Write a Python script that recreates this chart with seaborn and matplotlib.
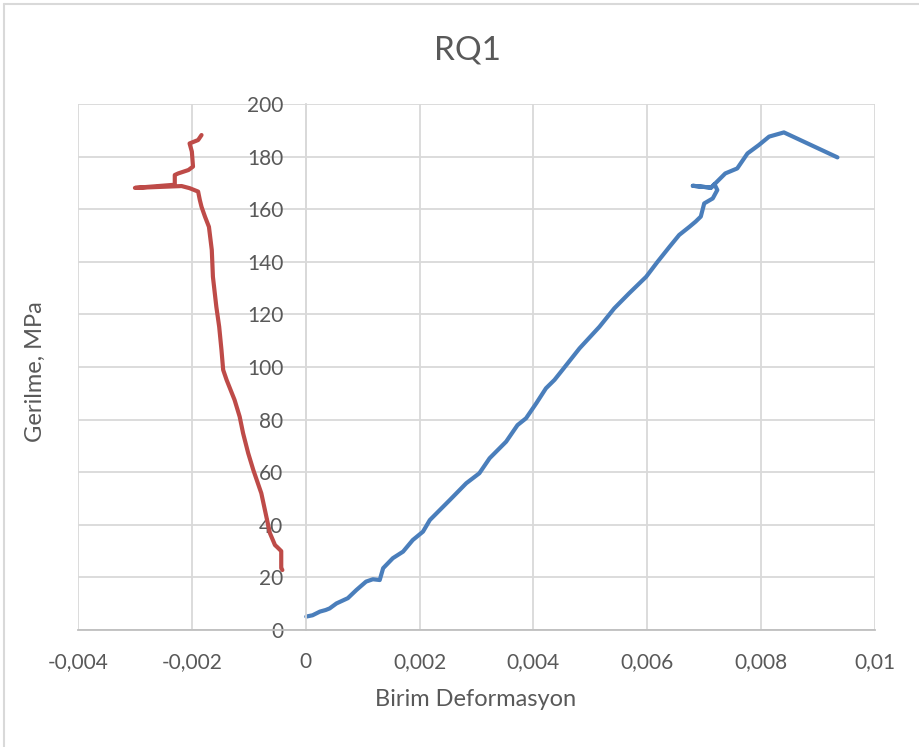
import matplotlib
matplotlib.use("Agg")
import matplotlib.pyplot as plt
import seaborn as sns
from matplotlib.ticker import FuncFormatter, MultipleLocator
from matplotlib.lines import Line2D

# strain (x) / stress (y) readings for the two gauges
blue_x = [0.00001, 0.00012, 0.00025, 0.00035, 0.00042, 0.00054, 0.00074, 0.00089,
          0.00106, 0.00118, 0.0013, 0.00136, 0.00153, 0.00171, 0.00188, 0.00206,
          0.00218, 0.00253, 0.00282, 0.00305, 0.00323, 0.00352, 0.00372, 0.00387,
          0.00405, 0.00422, 0.00437, 0.00451, 0.00481, 0.00516, 0.00542, 0.00568,
          0.00598, 0.00618, 0.00639, 0.00656, 0.00674, 0.00685, 0.00694, 0.007,
          0.00715, 0.00723, 0.00718, 0.00712, 0.0068, 0.00712, 0.00718, 0.00737,
          0.00758, 0.00776, 0.00796, 0.00814, 0.0084, 0.00934]
blue_y = [5.1, 5.6, 7.0, 7.6, 8.2, 10.1, 12.1, 15.2,
          18.4, 19.3, 19.0, 23.5, 27.3, 29.8, 34.2, 37.4,
          41.8, 49.4, 55.8, 59.6, 65.3, 71.6, 77.9, 80.5,
          86.2, 91.9, 95.1, 98.9, 107.1, 115.3, 122.3, 128.0,
          134.3, 140.0, 145.7, 150.2, 153.3, 155.3, 157.2, 162.2,
          164.1, 167.3, 169.5, 168.2, 168.9, 168.2, 169.5, 173.6,
          175.5, 181.2, 184.4, 187.6, 189.2, 179.7]

red_x = [-0.00041, -0.00043, -0.00043, -0.0005, -0.00054, -0.00063, -0.00078, -0.00092,
         -0.00101, -0.0011, -0.00116, -0.00125, -0.00139, -0.00145, -0.00148, -0.00152,
         -0.00157, -0.00163, -0.00165, -0.0017, -0.00177, -0.00183, -0.00186, -0.00189,
         -0.00204, -0.00218, -0.003, -0.0023, -0.0023, -0.00224, -0.00206, -0.00198,
         -0.002, -0.00204, -0.00189, -0.00183]
red_y = [22.8, 23.5, 30.0, 31.5, 32.3, 36.9, 52.0, 60.8,
         67.2, 74.8, 81.1, 87.5, 95.1, 98.9, 106.5, 115.3,
         122.9, 134.3, 144.5, 153.3, 157.2, 160.9, 163.5, 166.7,
         168.0, 168.8, 168.1, 169.3, 173.0, 173.6, 174.9, 176.2,
         181.9, 185.0, 186.3, 188.2]

x_ticks = [-0.004, -0.002, 0, 0.002, 0.004, 0.006, 0.008, 0.01]

sns.set_style("white")
plt.rcParams['font.family'] = ['Lato', 'DejaVu Sans']

text_col = '#595959'
grid_col = '#d9d9d9'

fig = plt.figure(figsize=(9.19, 7.47), dpi=100)
W, H = 919, 747
ax = fig.add_axes([78 / W, (H - 630) / H, 797 / W, 526 / H])

sns.lineplot(x=blue_x, y=blue_y, sort=False, estimator=None, color='#4a7ebb',
             linewidth=3, ax=ax)
sns.lineplot(x=red_x, y=red_y, sort=False, estimator=None, color='#be4b48',
             linewidth=3, ax=ax)

ax.set_xlim(-0.004, 0.01)
ax.set_ylim(0, 200)
ax.set_xticks(x_ticks)
ax.yaxis.set_major_locator(MultipleLocator(20))

comma = FuncFormatter(lambda v, p: ('%g' % round(v, 6)).replace('.', ','))
ax.xaxis.set_major_formatter(comma)
ax.yaxis.set_major_formatter(comma)

ax.grid(True, color=grid_col, linewidth=1.3)
ax.set_axisbelow(True)
for s in ['top', 'right']:
    ax.spines[s].set_visible(False)
ax.spines['left'].set_position(('data', 0))
ax.spines['left'].set_color(grid_col)
ax.spines['left'].set_linewidth(1.3)
ax.spines['bottom'].set_color('#bfbfbf')
ax.spines['bottom'].set_linewidth(1.3)

ax.tick_params(axis='x', length=0, pad=16, labelsize=15, labelcolor=text_col)
ax.tick_params(axis='y', length=0, pad=16, labelsize=15, labelcolor=text_col)
ax.set_xlabel('')
ax.set_ylabel('')

fig.text(467 / W, 1 - 50 / H, 'RQ1', ha='center', va='center', fontsize=24, color=text_col)
fig.text(476 / W, 1 - 700 / H, 'Birim Deformasyon', ha='center', va='center',
         fontsize=17, color=text_col)
fig.text(35 / W, 1 - 372 / H, 'Gerilme, MPa', ha='center', va='center', rotation=90,
         fontsize=17, color=text_col)

# chart border (top and left edges visible in the screenshot)
fig.add_artist(Line2D([4 / W, 1], [1 - 4 / H, 1 - 4 / H], color=grid_col, linewidth=1.5,
                      transform=fig.transFigure))
fig.add_artist(Line2D([4 / W, 4 / W], [0, 1 - 4 / H], color=grid_col, linewidth=1.5,
                      transform=fig.transFigure))

fig.savefig('out.png', dpi=100)
